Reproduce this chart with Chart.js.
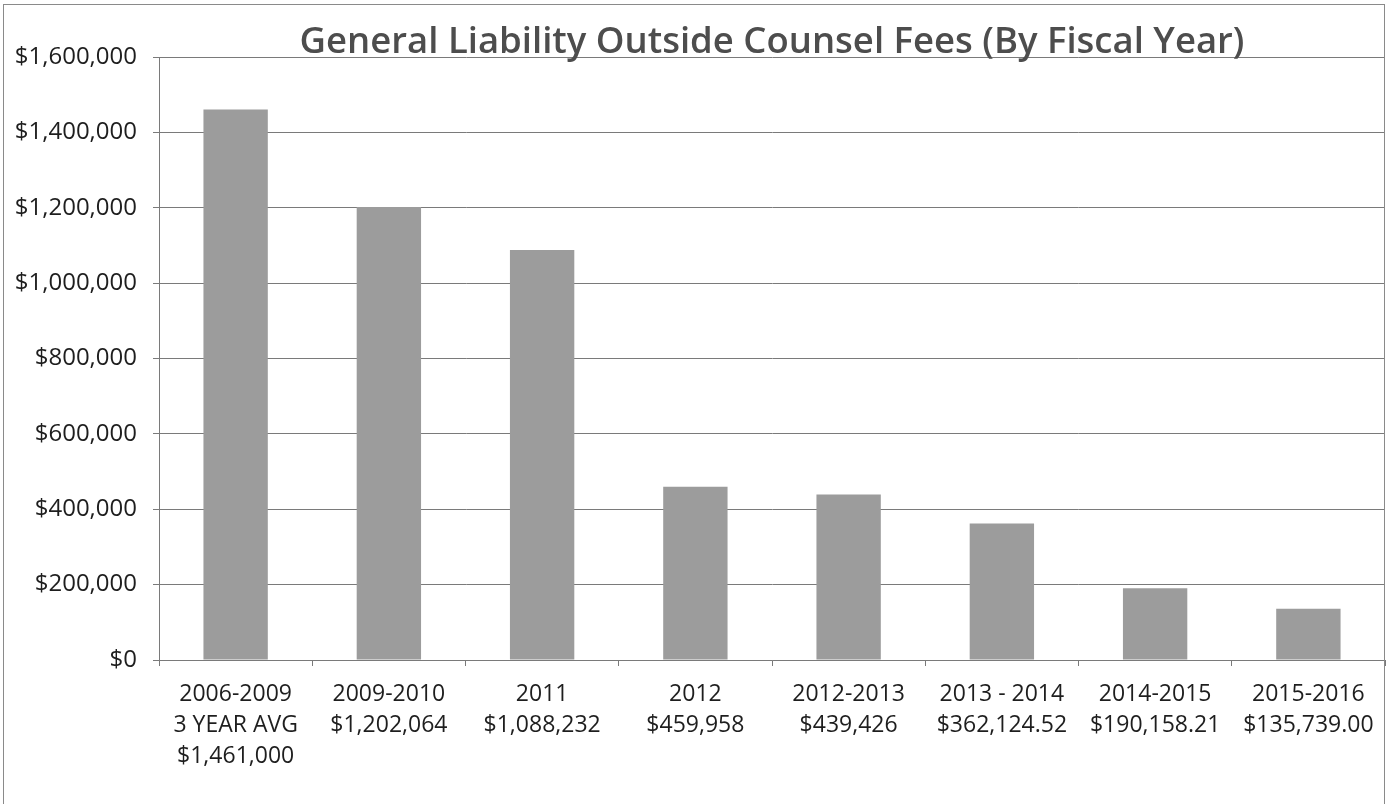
<!DOCTYPE html>
<html>
<head>
<meta charset="utf-8">
<script src="https://cdn.jsdelivr.net/npm/chart.js@4"></script>
<style>
  html, body { margin: 0; padding: 0; background: #fff; }
  #wrap { width: 1387px; height: 804px; position: relative; }
</style>
</head>
<body>
<div id="wrap"><canvas id="chartFees" width="1387" height="804"></canvas></div>
<script>
// ---- data ----
const categories = [
  ["2006-2009", "3 YEAR AVG", "$1,461,000"],
  ["2009-2010", "$1,202,064"],
  ["2011", "$1,088,232"],
  ["2012", "$459,958"],
  ["2012-2013", "$439,426"],
  ["2013 - 2014", "$362,124.52"],
  ["2014-2015", "$190,158.21"],
  ["2015-2016", "$135,739.00"]
];
const fees = [1461000, 1202064, 1088232, 459958, 439426, 362124.52, 190158.21, 135739.00];
const yMin = 0;
const yMax = 1600000;
const yStep = 200000;
const chartTitle = "General Liability Outside Counsel Fees (By Fiscal Year)";

// outer frame like the Excel chart border
const frame = {
  id: "frame",
  afterDraw(chart) {
    const c = chart.ctx;
    c.save();
    c.strokeStyle = "#8a8a8a";
    c.lineWidth = 1;
    c.strokeRect(3.5, 4.5, 1381, 830);
    c.restore();
  }
};

const FONT = "'Open Sans', 'Liberation Sans', sans-serif";

new Chart(document.getElementById("chartFees"), {
  type: "bar",
  data: {
    labels: categories,
    datasets: [{
      data: fees,
      backgroundColor: "#9c9c9c",
      borderWidth: 0,
      barPercentage: 0.42,
      categoryPercentage: 1
    }]
  },
  options: {
    responsive: false,
    animation: false,
    devicePixelRatio: 1,
    layout: { padding: { left: 0, right: 2, top: 0, bottom: 0 } },
    plugins: {
      legend: { display: false },
      tooltip: { enabled: false },
      title: {
        display: true,
        fullSize: false,
        text: chartTitle,
        color: "#4d4d4d",
        font: { family: FONT, size: 36.5, weight: "600", lineHeight: 0.8 },
        padding: { top: 28, bottom: 0 }
      }
    },
    scales: {
      x: {
        grid: { drawOnChartArea: false, color: "#7a7a7a", tickLength: 6, offset: true },
        border: { color: "#7a7a7a" },
        ticks: {
          color: "#1e1e1e",
          font: { family: FONT, size: 23, lineHeight: 1.35 },
          padding: 13,
          maxRotation: 0,
          autoSkip: false
        },
        afterFit: s => { s.height = 144; }
      },
      y: {
        min: yMin,
        max: yMax,
        grid: { color: "#7a7a7a", tickLength: 6 },
        border: { color: "#7a7a7a" },
        ticks: {
          stepSize: yStep,
          color: "#1e1e1e",
          font: { family: FONT, size: 24 },
          padding: 16,
          callback: v => "$" + v.toLocaleString("en-US")
        },
        afterFit: s => { s.width = 159; }
      }
    }
  },
  plugins: [frame]
});
</script>
</body>
</html>
